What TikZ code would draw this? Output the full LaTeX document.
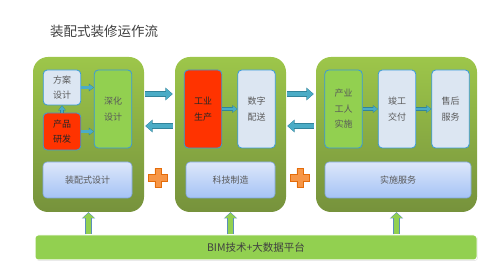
\documentclass[tikz,border=0pt]{standalone}
\usepackage{fontspec}
\usepackage{tikz}
\usetikzlibrary{arrows.meta,shadows}
\newfontfamily\cjk{Noto Sans CJK SC}

\definecolor{blocktop}{HTML}{9DC64A}
\definecolor{blockbot}{HTML}{76923C}
\definecolor{paleblue}{HTML}{DCE6F2}
\definecolor{boxedge}{HTML}{3A9AD9}
\definecolor{hotred}{HTML}{FF3300}
\definecolor{leafgreen}{HTML}{92D050}
\definecolor{basetop}{HTML}{DDE7FA}
\definecolor{basebot}{HTML}{A5C3F5}
\definecolor{baseedge}{HTML}{7FA7DF}
\definecolor{arrowteal}{HTML}{4BACC6}
\definecolor{arrowedge}{HTML}{31849B}
\definecolor{upedge}{HTML}{5B8FB9}
\definecolor{plusorange}{HTML}{F79646}
\definecolor{plusedge}{HTML}{E46C0A}
\definecolor{greytext}{HTML}{595959}

\tikzset{
  block/.style={rounded corners=15pt, top color=blocktop, bottom color=blockbot,
    minimum height=155pt, inner sep=0pt},
  stage/.style={rounded corners=4pt, draw=boxedge, line width=0.8pt,
    minimum width=37.5pt, minimum height=78pt, inner sep=0pt, align=center,
    font=\cjk\fontsize{9}{15.5}\selectfont, text=greytext},
  lightstage/.style={stage, fill=paleblue},
  redstage/.style={stage, fill=hotred, text=black!85},
  greenstage/.style={stage, fill=leafgreen},
  basebox/.style={rounded corners=4pt, top color=basetop, bottom color=basebot,
    draw=baseedge, line width=0.6pt, minimum height=36pt,
    font=\cjk\fontsize{9}{11}\selectfont, text=greytext},
  platform/.style={rounded corners=3pt, fill=leafgreen, draw=white, line width=1pt,
    drop shadow={opacity=0.25, shadow xshift=0.8pt, shadow yshift=-0.8pt},
    minimum width=442pt, minimum height=25pt,
    font=\cjk\fontsize{10.5}{12}\selectfont, text=black!75},
  bigarrow/.style={draw=arrowteal, line width=4.8pt, shorten >=0.7pt,
    -{Triangle[length=6pt,width=10.4pt]},
    preaction={draw=arrowedge, line width=6.4pt, shorten >=0pt,
      -{Triangle[length=7.4pt,width=12.4pt]}}},
  smallarrow/.style={draw=arrowteal, line width=2.2pt, shorten >=0.5pt,
    -{Triangle[length=4pt,width=5.8pt]},
    preaction={draw=arrowedge, line width=3.4pt, shorten >=0pt,
      -{Triangle[length=5pt,width=7.4pt]}}},
  uparrow/.style={draw=leafgreen, line width=4.6pt, shorten >=0.8pt,
    -{Triangle[length=4.8pt,width=10.6pt]},
    preaction={draw=upedge, line width=6.4pt, shorten >=0pt,
      -{Triangle[length=6.2pt,width=13pt]}}},
  plussign/.style={fill=plusorange, draw=plusedge, line width=0.6pt}
}

\begin{document}
\begin{tikzpicture}[x=1pt, y=-1pt]
  \useasboundingbox (0,0) rectangle (496,275);

  % Title
  \node[font=\cjk\fontsize{13.5}{16}\selectfont, text=black!75] (title) at (104,31) {装配式装修运作流};

  % Green blocks
  \node[block, minimum width=111pt] (b1) at (88.5,134.5) {};
  \node[block, minimum width=111pt] (b2) at (230.5,134.5) {};
  \node[block, minimum width=161pt] (b3) at (396.5,134.5) {};

  % Stages, block 1
  \node[lightstage, minimum height=35pt] (fa) at (62,87.5) {方案\\设计};
  \node[redstage, minimum height=37pt] (cp) at (62,131.5) {产品\\研发};
  \node[greenstage] (sh) at (113,109) {深化\\设计};

  % Stages, block 2
  \node[redstage] (gy) at (203,109) {工业\\生产};
  \node[lightstage] (sz) at (256.5,109) {数字\\配送};

  % Stages, block 3
  \node[greenstage] (cy) at (343.5,109) {产业\\工人\\实施};
  \node[lightstage] (jg) at (397,109) {竣工\\交付};
  \node[lightstage] (sx) at (450.5,109) {售后\\服务};

  % Bottom boxes
  \node[basebox, minimum width=89pt] (d1) at (87.5,180) {装配式设计};
  \node[basebox, minimum width=89pt] (d2) at (230.5,180) {科技制造};
  \node[basebox, minimum width=146pt] (d3) at (398,180) {实施服务};

  % Platform
  \node[platform] (pf) at (256,247.5) {BIM技术+大数据平台};

  % Arrows inside blocks
  \draw[smallarrow] (fa.east) -- (fa.east -| sh.west);
  \draw[smallarrow] (cp.east) -- (cp.east -| sh.west);
  \draw[smallarrow] (cp.north) -- (fa.south);
  \draw[smallarrow] (gy.east) -- (sz.west);
  \draw[smallarrow] (cy.east) -- (jg.west);
  \draw[smallarrow] (jg.east) -- (sx.west);

  % Arrows between blocks
  \draw[bigarrow] ([xshift=1pt,yshift=40.5pt]b1.east) -- ([xshift=-2pt,yshift=40.5pt]b2.west);
  \draw[bigarrow] ([xshift=-2pt,yshift=8.5pt]b2.west) -- ([xshift=1pt,yshift=8.5pt]b1.east);
  \draw[bigarrow] ([xshift=1pt,yshift=40.5pt]b2.east) -- ([xshift=-2pt,yshift=40.5pt]b3.west);
  \draw[bigarrow] ([xshift=-2pt,yshift=8.5pt]b3.west) -- ([xshift=1pt,yshift=8.5pt]b2.east);

  % Plus signs
  \foreach \px in {158,300}
    \filldraw[plussign] (\px-3.2,168.5) -- ++(6.4,0) -- ++(0,6.3) -- ++(6.3,0) -- ++(0,6.4)
      -- ++(-6.3,0) -- ++(0,6.3) -- ++(-6.4,0) -- ++(0,-6.3) -- ++(-6.3,0) -- ++(0,-6.4)
      -- ++(6.3,0) -- cycle;

  % Arrows from platform
  \draw[uparrow] (pf.north -| b1.south) -- (b1.south);
  \draw[uparrow] (pf.north -| b2.south) -- (b2.south);
  \draw[uparrow] (pf.north -| b3.south) -- (b3.south);
\end{tikzpicture}
\end{document}
